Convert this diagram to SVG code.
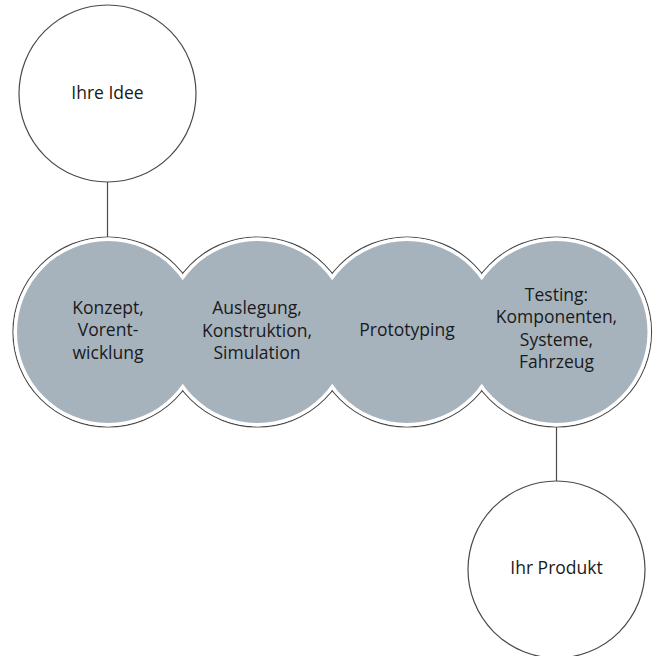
<svg xmlns="http://www.w3.org/2000/svg" width="657" height="656" viewBox="0 0 657 656">
<style>
text{font-family:"Open Sans","Noto Sans",sans-serif;font-size:17.5px;fill:#1a1a1a;text-anchor:middle}
.node{fill:#fff;stroke:#4a4a4a;stroke-width:1.2}
.outer{fill:#fff;stroke:#4a4a4a;stroke-width:1.2}
.cover{fill:#fff;stroke:none}
.fill{fill:#a6b3bd;stroke:none}
.conn{stroke:#4a4a4a;stroke-width:1.2;fill:none}
</style>
<rect width="657" height="656" fill="#fff"/>
<g id="connectors">
<line class="conn" x1="107.5" y1="182" x2="107.5" y2="237"/>
<line class="conn" x1="556.5" y1="427" x2="556.5" y2="481"/>
</g>
<g id="chain-outline">
<circle class="outer" cx="108" cy="332" r="95"/>
<circle class="outer" cx="257.5" cy="332" r="95"/>
<circle class="outer" cx="407" cy="332" r="95"/>
<circle class="outer" cx="556.5" cy="332" r="95"/>
<circle class="cover" cx="108" cy="332" r="94.4"/>
<circle class="cover" cx="257.5" cy="332" r="94.4"/>
<circle class="cover" cx="407" cy="332" r="94.4"/>
<circle class="cover" cx="556.5" cy="332" r="94.4"/>
<circle class="fill" cx="108" cy="332" r="91"/>
<circle class="fill" cx="257.5" cy="332" r="91"/>
<circle class="fill" cx="407" cy="332" r="91"/>
<circle class="fill" cx="556.5" cy="332" r="91"/>
</g>
<g id="idee">
<circle class="node" cx="107.5" cy="93.5" r="88.5"/>
<text x="107.5" y="99">Ihre Idee</text>
</g>
<g id="konzept">
<text x="108" y="313.5">Konzept,</text>
<text x="108" y="336">Vorent-</text>
<text x="108" y="358.5">wicklung</text>
</g>
<g id="auslegung">
<text x="257" y="314">Auslegung,</text>
<text x="257" y="336.5">Konstruktion,</text>
<text x="257" y="359">Simulation</text>
</g>
<g id="prototyping">
<text x="407" y="336">Prototyping</text>
</g>
<g id="testing">
<text x="556.5" y="300.5">Testing:</text>
<text x="556.5" y="323">Komponenten,</text>
<text x="556.5" y="345.5">Systeme,</text>
<text x="556.5" y="368">Fahrzeug</text>
</g>
<g id="produkt">
<circle class="node" cx="556.5" cy="569.5" r="88.5"/>
<text x="556.5" y="573.5">Ihr Produkt</text>
</g>
</svg>
